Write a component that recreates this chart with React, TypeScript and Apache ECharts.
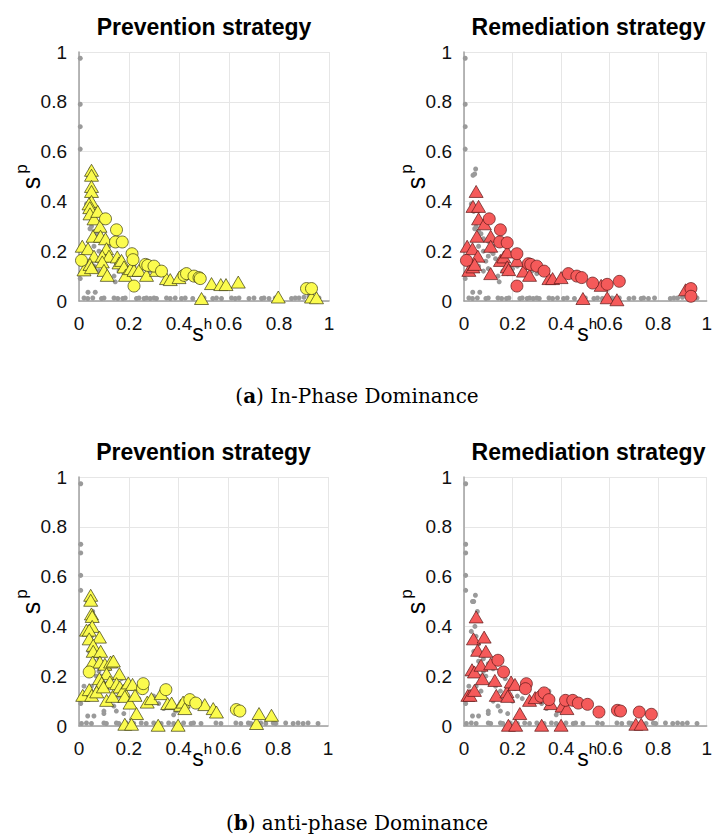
import React, { useEffect, useRef } from "react";
import * as echarts from "echarts";

// ---------- data (s^h, s^p) ----------
const grayA: number[][] = [
  [0.005, 0.975], [0.005, 0.79], [0.005, 0.70], [0.005, 0.61], [0.005, 0.09],
  [0.048, 0.53], [0.044, 0.51], [0.037, 0.505], [0.035, 0.39], [0.03, 0.39], [0.044, 0.29],
  [0.05, 0.3], [0.06, 0.28], [0.07, 0.27], [0.08, 0.25], [0.1, 0.18], [0.09, 0.16], [0.12, 0.19],
  [0.13, 0.17], [0.14, 0.1], [0.145, 0.077], [0.16, 0.12], [0.18, 0.11], [0.2, 0.13], [0.22, 0.14],
  [0.25, 0.13], [0.28, 0.12], [0.3, 0.11], [0.32, 0.12], [0.036, 0.035], [0.065, 0.035], [0.02, 0.11],
  [0.04, 0.15], [0.06, 0.14], [0.08, 0.12], [0.1, 0.13], [0.11, 0.2], [0.12, 0.22], [0.08, 0.2], [0.06, 0.22],
  [0.05, 0.44], [0.04, 0.36], [0.07, 0.32], [0.1, 0.24], [0.15, 0.15], [0.17, 0.17], [0.24, 0.12],
  [0.02, 0.012], [0.035, 0.01], [0.055, 0.012], [0.09, 0.01], [0.1, 0.012], [0.14, 0.012], [0.155, 0.01],
  [0.175, 0.01], [0.185, 0.012], [0.23, 0.01], [0.24, 0.012], [0.26, 0.01], [0.27, 0.012], [0.285, 0.01],
  [0.3, 0.012], [0.31, 0.01], [0.35, 0.012], [0.365, 0.01], [0.385, 0.012], [0.41, 0.01], [0.425, 0.012],
  [0.455, 0.01], [0.5, 0.012], [0.535, 0.01], [0.55, 0.012], [0.57, 0.01], [0.61, 0.012], [0.625, 0.01],
  [0.64, 0.012], [0.68, 0.01], [0.7, 0.012], [0.73, 0.01], [0.74, 0.012], [0.76, 0.01], [0.785, 0.012],
  [0.85, 0.01], [0.865, 0.012], [0.88, 0.012], [0.9, 0.015], [0.92, 0.02], [0.96, 0.012],
];

const yellowTriA: number[][] = [
  [0.05, 0.525], [0.05, 0.505], [0.05, 0.46], [0.05, 0.44], [0.05, 0.40], [0.04, 0.39], [0.043, 0.375],
  [0.044, 0.35], [0.06, 0.33], [0.075, 0.36], [0.084, 0.30], [0.056, 0.26], [0.086, 0.26], [0.106, 0.25],
  [0.013, 0.22], [0.036, 0.21], [0.06, 0.18], [0.11, 0.21], [0.093, 0.18], [0.12, 0.18], [0.02, 0.125],
  [0.044, 0.147], [0.05, 0.134], [0.093, 0.157], [0.1, 0.123], [0.113, 0.103], [0.153, 0.177], [0.16, 0.153],
  [0.17, 0.163], [0.18, 0.137], [0.186, 0.103], [0.206, 0.13], [0.22, 0.123], [0.24, 0.123], [0.27, 0.103],
  [0.31, 0.123], [0.35, 0.09], [0.365, 0.086], [0.4, 0.094], [0.49, 0.01], [0.53, 0.07], [0.567, 0.066],
  [0.588, 0.066], [0.637, 0.076], [0.797, 0.016], [0.93, 0.016], [0.95, 0.013],
];
const yellowCircA: number[][] = [
  [0.01, 0.163], [0.106, 0.33], [0.15, 0.286], [0.146, 0.237], [0.173, 0.237], [0.212, 0.19], [0.216, 0.166],
  [0.22, 0.06], [0.266, 0.147], [0.275, 0.143], [0.3, 0.14], [0.33, 0.12], [0.42, 0.103], [0.43, 0.11],
  [0.46, 0.1], [0.48, 0.094], [0.485, 0.09], [0.91, 0.05], [0.93, 0.05],
];
const redTriA: number[][] = [
  [0.05, 0.44], [0.037, 0.38], [0.06, 0.38], [0.06, 0.33], [0.084, 0.31], [0.053, 0.26], [0.013, 0.22],
  [0.035, 0.21], [0.057, 0.18], [0.11, 0.26], [0.11, 0.22], [0.02, 0.123], [0.037, 0.137], [0.044, 0.147],
  [0.11, 0.11], [0.15, 0.163], [0.164, 0.177], [0.178, 0.197], [0.178, 0.137], [0.184, 0.126], [0.218, 0.163],
  [0.245, 0.12], [0.27, 0.103], [0.35, 0.09], [0.365, 0.09], [0.4, 0.094], [0.49, 0.01], [0.565, 0.063],
  [0.59, 0.013], [0.63, 0.005], [0.913, 0.045],
];
const redCircA: number[][] = [
  [0.01, 0.163], [0.104, 0.33], [0.15, 0.286], [0.147, 0.237], [0.178, 0.234], [0.218, 0.19], [0.218, 0.06],
  [0.265, 0.15], [0.275, 0.147], [0.3, 0.14], [0.33, 0.12], [0.43, 0.11], [0.465, 0.1], [0.485, 0.094],
  [0.53, 0.072], [0.59, 0.067], [0.64, 0.079], [0.935, 0.05], [0.935, 0.019],
];

const grayB: number[][] = [
  [0.007, 0.973], [0.007, 0.73], [0.007, 0.695], [0.007, 0.605], [0.007, 0.545], [0.047, 0.525], [0.04, 0.5],
  [0.035, 0.5], [0.055, 0.46], [0.045, 0.40], [0.03, 0.38], [0.05, 0.36], [0.06, 0.33], [0.065, 0.29],
  [0.04, 0.3], [0.08, 0.27], [0.1, 0.25], [0.12, 0.23], [0.09, 0.2], [0.11, 0.17], [0.13, 0.16], [0.15, 0.14],
  [0.16, 0.12], [0.18, 0.13], [0.2, 0.1], [0.21, 0.15], [0.22, 0.12], [0.24, 0.11], [0.14, 0.08], [0.15, 0.06],
  [0.1, 0.06], [0.12, 0.1], [0.007, 0.09], [0.035, 0.04], [0.06, 0.04], [0.1, 0.05], [0.18, 0.05], [0.3, 0.12],
  [0.32, 0.09], [0.35, 0.14], [0.34, 0.07], [0.38, 0.045], [0.39, 0.06], [0.42, 0.08], [0.05, 0.16],
  [0.07, 0.14], [0.03, 0.12], [0.02, 0.16], [0.08, 0.22], [0.06, 0.26], [0.07, 0.2], [0.17, 0.19],
  [0.01, 0.01], [0.03, 0.012], [0.05, 0.01], [0.1, 0.012], [0.11, 0.01], [0.15, 0.012], [0.16, 0.01],
  [0.19, 0.012], [0.22, 0.01], [0.25, 0.012], [0.27, 0.01], [0.3, 0.012], [0.33, 0.01], [0.36, 0.012],
  [0.38, 0.01], [0.42, 0.012], [0.45, 0.01], [0.46, 0.012], [0.49, 0.01], [0.55, 0.012], [0.57, 0.01],
  [0.63, 0.012], [0.65, 0.01], [0.68, 0.012], [0.69, 0.01], [0.73, 0.012], [0.75, 0.01], [0.78, 0.012],
  [0.79, 0.01], [0.83, 0.012], [0.86, 0.01], [0.88, 0.012], [0.9, 0.01], [0.92, 0.012], [0.96, 0.01],
];

const yellowTriB: number[][] = [
  [0.047, 0.525], [0.047, 0.505], [0.05, 0.45], [0.053, 0.44], [0.053, 0.40], [0.03, 0.385], [0.041, 0.385],
  [0.041, 0.35], [0.082, 0.357], [0.057, 0.324], [0.057, 0.30], [0.087, 0.30], [0.055, 0.257], [0.084, 0.257],
  [0.104, 0.248], [0.127, 0.257], [0.138, 0.261], [0.162, 0.21], [0.111, 0.21], [0.082, 0.19], [0.091, 0.173],
  [0.124, 0.177], [0.015, 0.123], [0.041, 0.146], [0.051, 0.123], [0.071, 0.137], [0.098, 0.157],
  [0.111, 0.103], [0.135, 0.119], [0.151, 0.17], [0.164, 0.157], [0.178, 0.143], [0.184, 0.119],
  [0.198, 0.173], [0.215, 0.167], [0.205, 0.092], [0.225, 0.123], [0.231, 0.05], [0.184, 0.007],
  [0.211, 0.007], [0.274, 0.096], [0.291, 0.11], [0.33, 0.13], [0.356, 0.09], [0.372, 0.092], [0.318, 0.003],
  [0.398, 0.003], [0.408, 0.083], [0.418, 0.096], [0.425, 0.07], [0.505, 0.086], [0.539, 0.07], [0.552, 0.056],
  [0.713, 0.01], [0.723, 0.05], [0.773, 0.043],
];
const yellowCircB: number[][] = [
  [0.041, 0.217], [0.255, 0.15], [0.258, 0.17], [0.349, 0.146], [0.445, 0.106], [0.469, 0.092],
  [0.632, 0.066], [0.646, 0.06],
];
const redTriB: number[][] = [
  [0.05, 0.438], [0.039, 0.35], [0.083, 0.357], [0.056, 0.304], [0.09, 0.30], [0.033, 0.226], [0.043, 0.217],
  [0.07, 0.244], [0.076, 0.19], [0.11, 0.25], [0.127, 0.183], [0.016, 0.123], [0.025, 0.123], [0.043, 0.143],
  [0.133, 0.123], [0.177, 0.137], [0.18, 0.119], [0.194, 0.177], [0.21, 0.167], [0.23, 0.05], [0.183, 0.003],
  [0.213, 0.003], [0.27, 0.103], [0.293, 0.114], [0.357, 0.09], [0.32, 0.003], [0.4, 0.003], [0.404, 0.08],
  [0.424, 0.07], [0.708, 0.007], [0.73, 0.007],
];
const redCircB: number[][] = [
  [0.14, 0.264], [0.163, 0.217], [0.257, 0.17], [0.253, 0.15], [0.317, 0.119], [0.33, 0.133], [0.35, 0.106],
  [0.418, 0.103], [0.448, 0.103], [0.471, 0.092], [0.509, 0.087], [0.556, 0.056], [0.632, 0.063],
  [0.645, 0.06], [0.722, 0.056], [0.772, 0.047],
];

const panelTitles = ["Prevention strategy", "Remediation strategy", "Prevention strategy", "Remediation strategy"];
const captions = [["a", " In-Phase Dominance"], ["b", " anti-phase Dominance"]];

const YELLOW = "#fbfb4e";
const RED = "#f55a5a";
const GRAY = "#9a9a9a";

export default function App() {
  const ref = useRef<HTMLDivElement>(null);
  useEffect(() => {
    if (!ref.current) return;
    const chart = echarts.init(ref.current, undefined, { renderer: "svg" });
    const font = "Liberation Sans";
    const grids = [
      { left: 79, top: 52, width: 250, height: 249 },
      { left: 464, top: 52, width: 249, height: 249 },
      { left: 79, top: 477, width: 249, height: 249 },
      { left: 464, top: 477, width: 249, height: 249 },
    ];
    const xAxis = grids.map((_, i) => ({
      type: "value", gridIndex: i, min: 0, max: 1, interval: 0.2,
      axisLine: { show: true, onZero: false, lineStyle: { color: "#a0a0a0", width: 1.5 } },
      axisTick: { show: false },
      splitLine: { show: true, lineStyle: { color: "#e6e6e6", width: 1 } },
      axisLabel: { color: "#111", fontSize: 19, fontFamily: font, margin: 13 },
    }));
    const yAxis = grids.map((_, i) => ({
      type: "value", gridIndex: i, min: 0, max: 1, interval: 0.2,
      axisLine: { show: true, onZero: false, lineStyle: { color: "#a0a0a0", width: 1.5 } },
      axisTick: { show: false },
      splitLine: { show: true, lineStyle: { color: "#e6e6e6", width: 1 } },
      axisLabel: { color: "#111", fontSize: 19, fontFamily: font, margin: 12 },
    }));
    const sets = [
      { gray: grayA, circ: yellowCircA, tri: yellowTriA, color: YELLOW, edge: "#3a3a10" },
      { gray: grayA, circ: redCircA, tri: redTriA, color: RED, edge: "#5a1515" },
      { gray: grayB, circ: yellowCircB, tri: yellowTriB, color: YELLOW, edge: "#3a3a10" },
      { gray: grayB, circ: redCircB, tri: redTriB, color: RED, edge: "#5a1515" },
    ];
    const series: any[] = [];
    sets.forEach((s, i) => {
      series.push({
        type: "scatter", xAxisIndex: i, yAxisIndex: i, data: s.gray, symbol: "circle", symbolSize: 5,
        itemStyle: { color: GRAY, opacity: 1 }, z: 2,
      });
      series.push({
        type: "scatter", xAxisIndex: i, yAxisIndex: i, data: s.tri, symbol: "triangle", symbolSize: [14, 12],
        itemStyle: { color: s.color, borderColor: s.edge, borderWidth: 0.7, opacity: 1 }, z: 3,
      });
      series.push({
        type: "scatter", xAxisIndex: i, yAxisIndex: i, data: s.circ, symbol: "circle", symbolSize: 12,
        itemStyle: { color: s.color, borderColor: s.edge, borderWidth: 0.7, opacity: 1 }, z: 4,
      });
    });
    const graphic: any[] = [];
    grids.forEach((g, i) => {
      const cx = g.left + g.width / 2;
      graphic.push({
        type: "text", x: cx, y: g.top - 25,
        style: { text: panelTitles[i], font: `bold 23px ${font}`, fill: "#000", textAlign: "center", textVerticalAlign: "middle" },
      });
      // x label s^h
      const xl = g.left + 119;
      const xy = g.top + g.height + 32;
      graphic.push({ type: "text", x: xl, y: xy, style: { text: "s", font: `23px ${font}`, fill: "#000", textAlign: "center", textVerticalAlign: "middle" } });
      graphic.push({ type: "text", x: xl + 10, y: xy - 10, style: { text: "h", font: `15px ${font}`, fill: "#000", textAlign: "center", textVerticalAlign: "middle" } });
      // y label s^p (rotated)
      const yx = g.left - 48;
      const yy = g.top + 131;
      graphic.push({ type: "text", x: yx, y: yy, rotation: Math.PI / 2, style: { text: "s", font: `25px ${font}`, fill: "#000", textAlign: "center", textVerticalAlign: "middle" } });
      graphic.push({ type: "text", x: yx - 10, y: yy - 14, rotation: Math.PI / 2, style: { text: "p", font: `17px ${font}`, fill: "#000", textAlign: "center", textVerticalAlign: "middle" } });
    });
    const serif = "DejaVu Serif";
    [396, 823].forEach((y, k) => {
      graphic.push({
        type: "text", x: 357, y,
        style: {
          text: `{p|(}{b|${captions[k][0]}}{p|)${captions[k][1]}}`,
          textAlign: "center", textVerticalAlign: "middle",
          rich: {
            p: { fontFamily: serif, fontSize: 20, fill: "#000", color: "#000" },
            b: { fontFamily: serif, fontSize: 20, fontWeight: "bold", fill: "#000", color: "#000" },
          },
        },
      });
    });
    chart.setOption({
      animation: false,
      backgroundColor: "#fff",
      grid: grids,
      xAxis, yAxis, series, graphic,
    });
    return () => chart.dispose();
  }, []);
  return <div ref={ref} style={{ position: "absolute", left: 0, top: 0, width: 715, height: 836 }} />;
}
